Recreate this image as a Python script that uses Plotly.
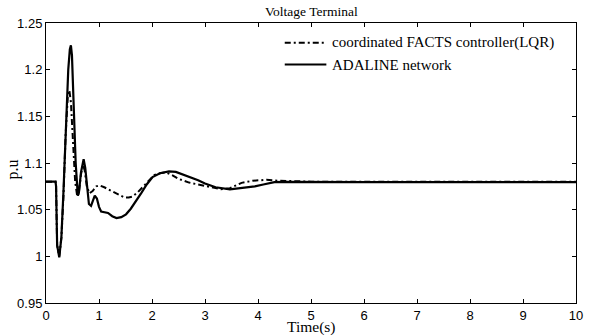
import plotly.graph_objects as go

title = "Voltage Terminal"
x_label = "Time(s)"
y_label = "p.u"
series_names = ["coordinated FACTS controller(LQR)", "ADALINE network"]

t_lqr = [0, 0.18, 0.19, 0.195, 0.21, 0.25, 0.29, 0.33, 0.37, 0.41, 0.44, 0.47, 0.51, 0.55, 0.59,
         0.62, 0.66, 0.70, 0.73, 0.77, 0.82, 0.88, 0.95, 1.01, 1.1, 1.2, 1.3, 1.4, 1.48, 1.56, 1.63,
         1.72, 1.8, 1.88, 1.96, 2.04, 2.15, 2.26, 2.38, 2.5, 2.7, 2.87, 3.1, 3.3, 3.47, 3.69, 3.9,
         4.16, 4.39, 4.7, 5, 6, 7, 8, 9, 10]
v_lqr = [1.08, 1.08, 1.075, 1.03, 1.012, 1.0, 1.02, 1.065, 1.13, 1.17, 1.178, 1.165, 1.12, 1.08, 1.064,
         1.068, 1.088, 1.098, 1.092, 1.075, 1.0675, 1.07, 1.075, 1.076, 1.074, 1.071, 1.068, 1.065, 1.063, 1.063, 1.064,
         1.068, 1.073, 1.078, 1.083, 1.087, 1.089, 1.090, 1.087, 1.083, 1.079, 1.077, 1.074, 1.072, 1.073, 1.0787, 1.081,
         1.082, 1.081, 1.0803, 1.08, 1.08, 1.08, 1.08, 1.08, 1.08]

t_ada = [0, 0.18, 0.19, 0.195, 0.21, 0.25, 0.29, 0.33, 0.38, 0.42, 0.45, 0.47, 0.49, 0.52, 0.56, 0.60,
         0.62, 0.66, 0.71, 0.74, 0.78, 0.81, 0.85, 0.88, 0.92, 0.96, 1.0, 1.04, 1.1, 1.17, 1.25, 1.33,
         1.42, 1.51, 1.6, 1.7, 1.8, 1.9, 2.01, 2.15, 2.32, 2.45, 2.57, 2.7, 2.87, 3.0, 3.2, 3.47, 3.7,
         3.94, 4.1, 4.31, 4.5, 5, 6, 7, 8, 9, 10]
v_ada = [1.08, 1.08, 1.075, 1.03, 1.012, 0.999, 1.02, 1.07, 1.15, 1.20, 1.222, 1.226, 1.215, 1.17, 1.10, 1.065,
         1.068, 1.09, 1.104, 1.095, 1.068, 1.056, 1.054, 1.058, 1.065, 1.062, 1.053, 1.048, 1.047, 1.0465, 1.043, 1.041,
         1.042, 1.045, 1.051, 1.059, 1.068, 1.077, 1.085, 1.089, 1.091, 1.0905, 1.088, 1.085, 1.0815, 1.078, 1.074, 1.0717, 1.073,
         1.075, 1.077, 1.0795, 1.0798, 1.0795, 1.0795, 1.0795, 1.0795, 1.0795, 1.0795]

x_ticks = [0, 1, 2, 3, 4, 5, 6, 7, 8, 9, 10]
y_ticks = [0.95, 1.0, 1.05, 1.1, 1.15, 1.2, 1.25]
y_ticktext = ["0.95", "1", "1.05", "1.1", "1.15", "1.2", "1.25"]

serif = "Liberation Serif"
sans = "Liberation Sans"
dashes = ["6px,3px,2px,3px", "solid"]

fig = go.Figure()
fig.add_trace(go.Scatter(x=t_lqr, y=v_lqr, mode="lines", name=series_names[0],
                         line=dict(color="black", width=2, dash=dashes[0])))
fig.add_trace(go.Scatter(x=t_ada, y=v_ada, mode="lines", name=series_names[1],
                         line=dict(color="black", width=2.2, dash=dashes[1])))

# Plot area in pixels: left 46, right 581, top 23.3, bottom 304.3
L, R, T, B = 46, 581, 23.3, 304.3
W, H = R - L, B - T
def px(x):
    return (x - L) / W
def py(y):
    return 1 - (y - T) / H

# custom legend (matching long line samples)
legend_rows = [43, 65]
shapes = []
annotations = []
for name, dash, yrow in zip(series_names, dashes, legend_rows):
    shapes.append(dict(type="line", xref="paper", yref="paper", x0=px(287), x1=px(329),
                       y0=py(yrow), y1=py(yrow), line=dict(color="black", width=2, dash=dash)))
    annotations.append(dict(text=name, xref="paper", yref="paper", x=px(333), y=py(yrow),
                            xanchor="left", yanchor="middle", showarrow=False,
                            font=dict(family=serif, size=15, color="black")))

annotations.append(dict(text=title, xref="paper", yref="paper", x=0.5, y=py(12),
                        xanchor="center", yanchor="middle", showarrow=False,
                        font=dict(family=serif, size=13.5, color="black")))
annotations.append(dict(text=x_label, xref="paper", yref="paper", x=0.5, y=py(328.5),
                        xanchor="center", yanchor="middle", showarrow=False,
                        font=dict(family=serif, size=15.5, color="black")))
annotations.append(dict(text=y_label, xref="paper", yref="paper", x=px(13), y=py(170),
                        xanchor="center", yanchor="middle", showarrow=False, textangle=-90,
                        font=dict(family=serif, size=16, color="black")))

fig.update_layout(
    width=595, height=335,
    margin=dict(l=46, r=14, t=23.3, b=30.7),
    paper_bgcolor="white", plot_bgcolor="white",
    showlegend=False,
    shapes=shapes,
    annotations=annotations,
    font=dict(family=sans, size=13, color="black"),
)
fig.update_xaxes(range=[0, 10], tickvals=x_ticks, ticks="inside", ticklen=4, tickcolor="black",
                 showline=True, linecolor="black", linewidth=1, mirror="ticks", showgrid=False,
                 zeroline=False, tickfont=dict(family=sans, size=13))
fig.update_yaxes(range=[0.95, 1.25], tickvals=y_ticks, ticktext=y_ticktext, ticks="inside", ticklen=4,
                 tickcolor="black", showline=True, linecolor="black", linewidth=1, mirror="ticks",
                 showgrid=False, zeroline=False, tickfont=dict(family=sans, size=13))

fig.write_html("out.html")
